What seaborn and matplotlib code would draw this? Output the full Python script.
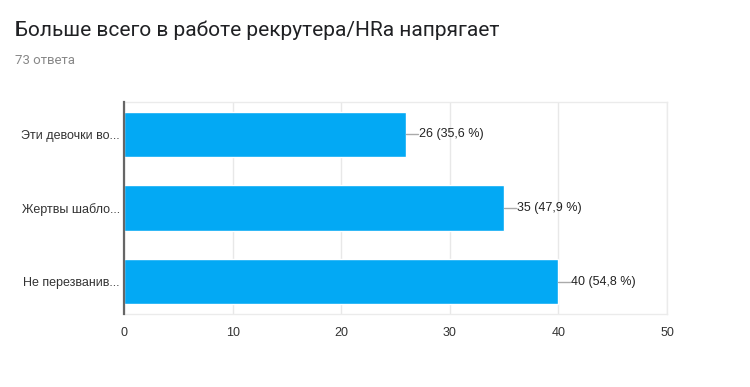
import pandas as pd
import matplotlib.pyplot as plt
import seaborn as sns

labels = ["Эти девочки во...", "Жертвы шабло...", "Не перезванив..."]
counts = [26, 35, 40]
percents = ["35,6", "47,9", "54,8"]
total_answers = 73

df = pd.DataFrame({"label": labels, "count": counts})

sns.set_style("white")
plt.rcParams["font.family"] = ["Liberation Sans", "DejaVu Sans"]

fig = plt.figure(figsize=(7.5, 3.87), dpi=100)
ax = fig.add_axes([124 / 750, 1 - 314 / 387, 543 / 750, 212 / 387])

sns.barplot(data=df, x="count", y="label", color="#03A9F4", saturation=1,
            width=0.62, ax=ax, zorder=3)

ax.set_xlim(0, 50)
ax.set_xticks([0, 10, 20, 30, 40, 50])
ax.grid(axis="x", color="#e8e8e8", linewidth=1, zorder=0)
ax.set_xlabel("")
ax.set_ylabel("")
ax.tick_params(axis="both", length=0, labelsize=9, labelcolor="#333333")
ax.tick_params(axis="x", pad=9)
ax.tick_params(axis="y", pad=3)

for side in ["top", "right", "bottom"]:
    ax.spines[side].set_color("#ebebeb")
    ax.spines[side].set_linewidth(1)
ax.spines["left"].set_color("#666666")
ax.spines["left"].set_linewidth(1.6)
ax.spines["left"].set_zorder(5)

# value labels with short connector line
for i, (c, p) in enumerate(zip(counts, percents)):
    ax.plot([c, c + 1.1], [i, i], color="#aaaaaa", linewidth=1, zorder=4)
    ax.text(c + 1.15, i, f"{c} ({p} %)", va="center", ha="left",
            fontsize=9, color="#222222")

fig.text(15 / 750, 1 - 30 / 387, "Больше всего в работе рекрутера/HRa напрягает",
         fontsize=15, color="#202124", va="center", ha="left", family="Roboto")
fig.text(15 / 750, 1 - 60 / 387, f"{total_answers} ответа",
         fontsize=9.5, color="#888888", va="center", ha="left", family="Roboto")

fig.savefig("out.png", dpi=100)
